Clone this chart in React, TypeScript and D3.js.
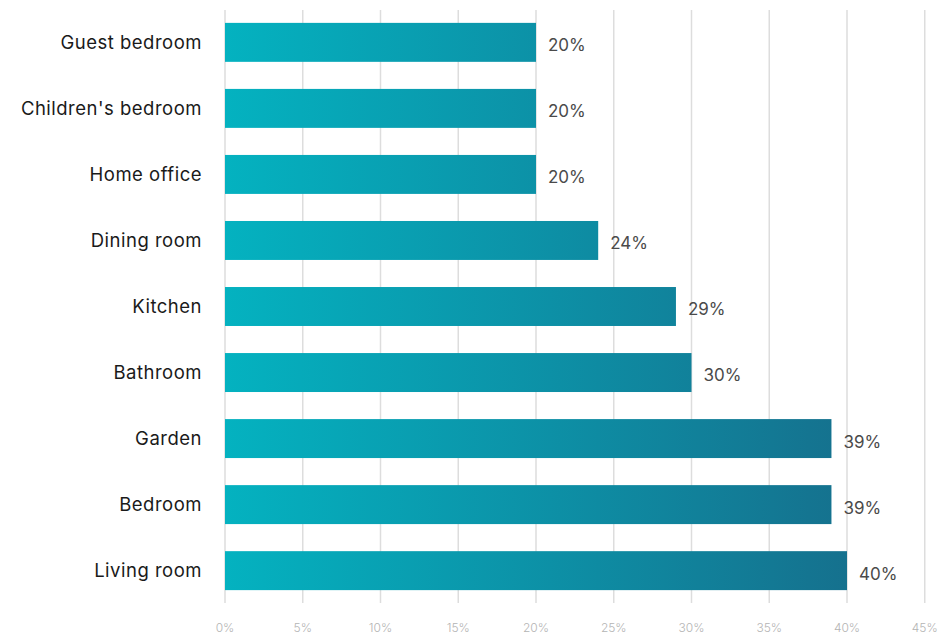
import React from "react";
import * as d3 from "d3";

const categories = [
  "Guest bedroom",
  "Children's bedroom",
  "Home office",
  "Dining room",
  "Kitchen",
  "Bathroom",
  "Garden",
  "Bedroom",
  "Living room",
];
const values = [20, 20, 20, 24, 29, 30, 39, 39, 40];
const ticks = [0, 5, 10, 15, 20, 25, 30, 35, 40, 45];

const W = 943;
const H = 636;
const FONT = "Inter, 'Noto Sans', sans-serif";

export default function App() {
  const x = d3.scaleLinear().domain([0, 45]).range([225, 924.75]);
  const y = d3
    .scaleBand<string>()
    .domain(categories)
    .range([10, 603])
    .paddingInner(0.41)
    .paddingOuter(0.195);

  return (
    <svg
      width={W}
      height={H}
      style={{ position: "absolute", left: 0, top: 0, background: "#fff" }}
    >
      <defs>
        <linearGradient
          id="barGrad"
          gradientUnits="userSpaceOnUse"
          x1={x(0)}
          x2={x(40)}
          y1={0}
          y2={0}
        >
          <stop offset="0%" stopColor="#04b2c0" />
          <stop offset="100%" stopColor="#15718e" />
        </linearGradient>
      </defs>
      {ticks.map((t) => (
        <g key={t}>
          <line
            x1={x(t)}
            x2={x(t)}
            y1={10}
            y2={603}
            stroke="#dddddd"
            strokeWidth={1.5}
          />
          <text
            x={x(t)}
            y={632}
            textAnchor="middle"
            fontFamily={FONT}
            fontWeight={300}
            fontSize={12}
            fill="#b4b4b4"
          >
            {t}%
          </text>
        </g>
      ))}
      {categories.map((c, i) => {
        const y0 = y(c)!;
        const bw = y.bandwidth();
        return (
          <g key={c}>
            <rect
              x={x(0)}
              y={y0}
              width={x(values[i]) - x(0)}
              height={bw}
              fill="url(#barGrad)"
            />
            <text
              x={202}
              y={y0 + bw / 2}
              dy="0.35em"
              textAnchor="end"
              fontFamily={FONT}
              fontSize={18.5}
              letterSpacing={0.5}
              fill="#1a1a1a"
            >
              {c}
            </text>
            <text
              x={x(values[i]) + 12}
              y={y0 + bw / 2 + 3}
              dy="0.35em"
              textAnchor="start"
              fontFamily={FONT}
              fontSize={17}
              fill="#4a4a4a"
            >
              {values[i]}%
            </text>
          </g>
        );
      })}
    </svg>
  );
}
